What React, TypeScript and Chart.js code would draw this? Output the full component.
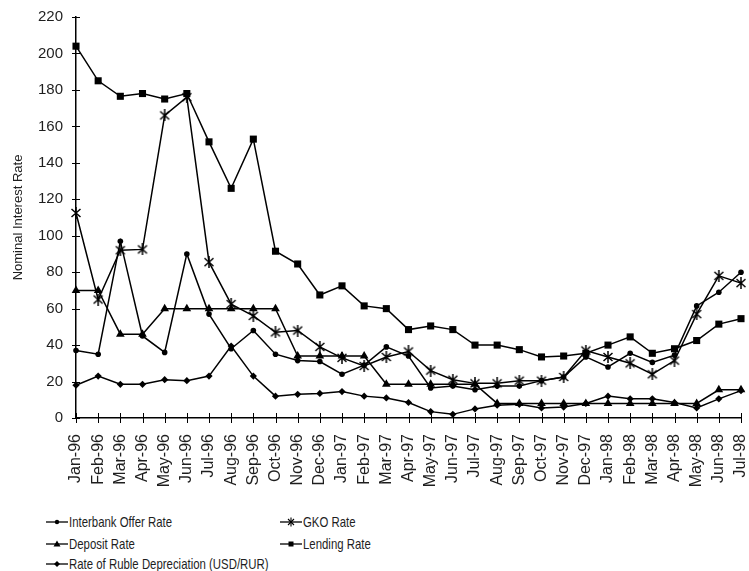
import React, { useEffect, useRef } from 'react';
import { Chart, registerables } from 'chart.js';
Chart.register(...registerables);

const months = [
  'Jan-96', 'Feb-96', 'Mar-96', 'Apr-96', 'May-96', 'Jun-96', 'Jul-96', 'Aug-96', 'Sep-96', 'Oct-96', 'Nov-96', 'Dec-96',
  'Jan-97', 'Feb-97', 'Mar-97', 'Apr-97', 'May-97', 'Jun-97', 'Jul-97', 'Aug-97', 'Sep-97', 'Oct-97', 'Nov-97', 'Dec-97',
  'Jan-98', 'Feb-98', 'Mar-98', 'Apr-98', 'May-98', 'Jun-98', 'Jul-98',
];

const interbankRate = [37, 35, 97, 45, 36, 90, 57, 38, 48, 35, 31.5, 31, 24, 29, 39, 34, 16.5, 17.5, 15.5, 17.5, 17.5, 20.5, 22.5, 33.5, 28, 35.5, 30.5, 34.5, 61.5, 69, 80];
const gkoRate = [112.5, 65, 92, 92.5, 166, 176, 85.5, 62.5, 56, 47, 48, 39, 33, 28.5, 33.5, 36.5, 26, 21, 19, 19, 20.5, 20.5, 22.5, 37, 33.5, 30, 24, 31.5, 57, 78, 74];
const depositRate = [70, 70, 46, 46, 60, 60, 60, 60, 60, 60, 34, 34, 34, 34, 18.5, 18.5, 18.5, 18.5, 18.5, 8, 8, 8, 8, 8, 8, 8, 8, 8, 8, 15.5, 15.5];
const lendingRate = [204, 185, 176.5, 178, 175, 178, 151.5, 126, 153, 91.5, 84.5, 67.5, 72.5, 61.5, 60, 48.5, 50.5, 48.5, 40, 40, 37.5, 33.5, 34, 35.5, 40, 44.5, 35.5, 38, 42.5, 51.5, 54.5];
const rubleDepreciation = [18, 23, 18.5, 18.5, 21, 20.5, 23, 39.5, 23, 12, 13, 13.5, 14.5, 12, 11, 8.5, 3.5, 2, 5, 7, 7.5, 5.5, 6, 8, 12, 10.5, 10.5, 8.5, 5.5, 10.5, 15];

const yMin = 0;
const yMax = 220;
const yStep = 20;

const FONT = '"Liberation Sans", Arial, Helvetica, sans-serif';
const TEXT = '#1e1e1e';

function makeStar(): HTMLCanvasElement {
  const s = document.createElement('canvas');
  s.width = 12;
  s.height = 12;
  const c = s.getContext('2d')!;
  c.strokeStyle = '#000';
  c.lineWidth = 1.5;
  c.beginPath();
  c.moveTo(1.5, 2); c.lineTo(10.5, 10);
  c.moveTo(10.5, 2); c.lineTo(1.5, 10);
  c.moveTo(6, 0); c.lineTo(6, 12);
  c.stroke();
  return s;
}

const legendItems = [
  { label: 'Interbank Offer Rate', marker: 'circle', col: 0, row: 0 },
  { label: 'GKO Rate', marker: 'star', col: 1, row: 0 },
  { label: 'Deposit Rate', marker: 'triangle', col: 0, row: 1 },
  { label: 'Lending Rate', marker: 'rect', col: 1, row: 1 },
  { label: 'Rate of Ruble Depreciation (USD/RUR)', marker: 'diamond', col: 0, row: 2 },
];

function Marker({ kind }: { kind: string }) {
  let m: React.ReactNode = null;
  if (kind === 'circle') m = <circle cx={11} cy={7} r={2.2} fill="#000" />;
  if (kind === 'triangle') m = <polygon points="11,3.5 14.5,9.5 7.5,9.5" fill="#000" />;
  if (kind === 'rect') m = <rect x={8.5} y={4.5} width={5} height={5} fill="#000" />;
  if (kind === 'diamond') m = <polygon points="11,4 14,7 11,10 8,7" fill="#000" />;
  if (kind === 'star')
    m = (
      <g stroke="#000" strokeWidth={1.1}>
        <line x1={8} y1={4} x2={14} y2={10} />
        <line x1={14} y1={4} x2={8} y2={10} />
        <line x1={11} y1={2.5} x2={11} y2={11.5} />
      </g>
    );
  return (
    <svg width={22} height={14} style={{ position: 'absolute', left: 0, top: 0 }}>
      <line x1={0} y1={7} x2={22} y2={7} stroke="#000" strokeWidth={1.3} />
      {m}
    </svg>
  );
}

export default function App() {
  const ref = useRef<HTMLCanvasElement>(null);

  useEffect(() => {
    document.body.style.margin = '0';
    const star = makeStar();
    const crossTicks = {
      id: 'crossTicks',
      beforeDatasetsDraw(chart: any) {
        const ctx = chart.ctx;
        const x = chart.scales.x;
        const y = chart.scales.y;
        ctx.save();
        ctx.strokeStyle = '#000';
        ctx.lineWidth = 1;
        ctx.beginPath();
        x.ticks.forEach((_: any, i: number) => {
          const px = Math.round(x.getPixelForTick(i)) + 0.5;
          ctx.moveTo(px, y.bottom - 5);
          ctx.lineTo(px, y.bottom + 5);
        });
        y.ticks.forEach((_: any, i: number) => {
          const py = Math.round(y.getPixelForTick(i)) + 0.5;
          ctx.moveTo(x.left - 4, py);
          ctx.lineTo(x.left + 4, py);
        });
        ctx.stroke();
        ctx.restore();
      },
    };

    const base = {
      borderColor: '#000',
      backgroundColor: '#000',
      pointBackgroundColor: '#000',
      pointBorderColor: '#000',
      borderWidth: 1.5,
      tension: 0,
      fill: false,
    };

    const chart = new Chart(ref.current!, {
      type: 'line',
      data: {
        labels: months,
        datasets: [
          { ...base, label: 'Interbank Offer Rate', data: interbankRate, pointStyle: 'circle', pointRadius: 2.8, pointBorderWidth: 0 },
          { ...base, label: 'GKO Rate', data: gkoRate, pointStyle: star as any, pointRadius: 5 },
          { ...base, label: 'Deposit Rate', data: depositRate, pointStyle: 'triangle', pointRadius: 5, pointBorderWidth: 0 },
          { ...base, label: 'Lending Rate', data: lendingRate, pointStyle: 'rect', pointRadius: 5, pointBorderWidth: 0 },
          { ...base, label: 'Rate of Ruble Depreciation (USD/RUR)', data: rubleDepreciation, pointStyle: 'rectRot', pointRadius: 3.6, pointBorderWidth: 0 },
        ],
      },
      options: {
        animation: false,
        responsive: false,
        maintainAspectRatio: false,
        events: [],
        layout: { padding: { top: 17, right: 8, left: 0, bottom: 0 } },
        plugins: { legend: { display: false }, tooltip: { enabled: false } },
        scales: {
          x: {
            type: 'category',
            offset: false,
            grid: { display: false, drawTicks: false },
            border: { display: true, color: '#000', width: 1.5 },
            ticks: {
              autoSkip: false,
              maxRotation: 90,
              minRotation: 90,
              padding: 16,
              color: TEXT,
              font: { size: 16, family: FONT },
            },
            afterFit(s: any) {
              s.height = 82;
              s.paddingLeft = 0;
              s.paddingRight = 0;
            },
          },
          y: {
            min: yMin,
            max: yMax,
            grid: { display: false, drawTicks: false },
            border: { display: true, color: '#000', width: 1.5 },
            ticks: { stepSize: yStep, padding: 13, color: TEXT, font: { size: 15, family: FONT } },
            title: {
              display: true,
              text: 'Nominal Interest Rate',
              color: TEXT,
              font: { size: 13, family: FONT },
              padding: { top: 11, bottom: 0 },
            },
            afterFit(s: any) {
              s.width = 76;
              s.paddingTop = 0;
              s.paddingBottom = 0;
            },
          },
        },
      },
      plugins: [crossTicks],
    } as any);
    return () => chart.destroy();
  }, []);

  const colX = [46, 280];
  const rowY = [522, 544, 564];

  return (
    <div style={{ position: 'relative', width: 749, height: 571, background: '#fff', overflow: 'hidden' }}>
      <canvas ref={ref} width={749} height={500} style={{ display: 'block', width: 749, height: 500 }} />
      {legendItems.map((it) => (
        <div key={it.label} style={{ position: 'absolute', left: colX[it.col], top: rowY[it.row] - 7, height: 14 }}>
          <Marker kind={it.marker} />
          <span
            style={{
              position: 'absolute',
              left: 23,
              top: -2,
              height: 18,
              lineHeight: '18px',
              fontFamily: FONT,
              fontSize: 15,
              color: TEXT,
              whiteSpace: 'nowrap',
              transform: 'scaleX(0.76)',
              transformOrigin: 'left center',
            }}
          >
            {it.label}
          </span>
        </div>
      ))}
    </div>
  );
}
